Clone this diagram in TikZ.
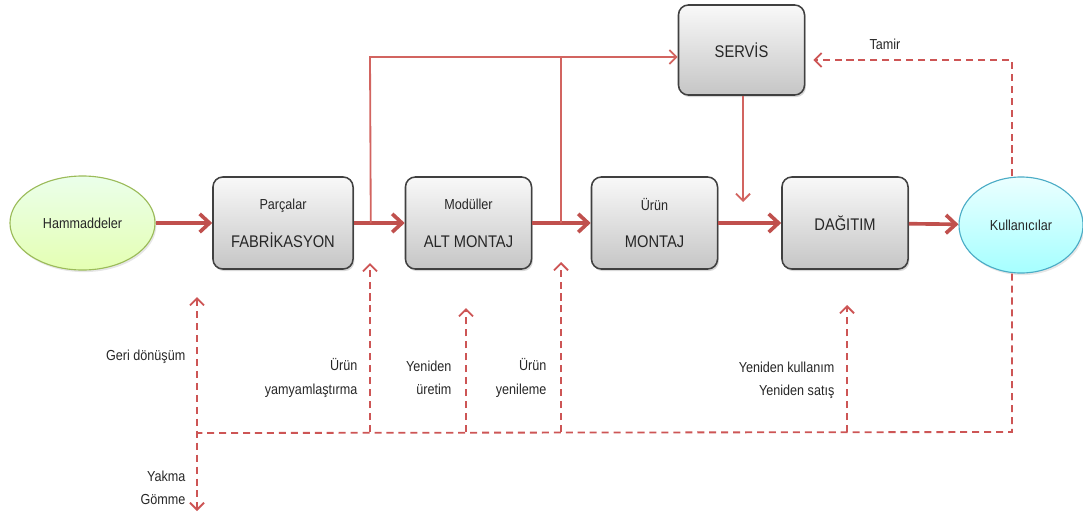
\documentclass[tikz,border=0pt]{standalone}
\usepackage{fontspec}
\setmainfont{Liberation Sans}[FakeStretch=0.87]
\usetikzlibrary{positioning,calc,arrows.meta,shapes.geometric,shadows}

\definecolor{koyukirmizi}{RGB}{192,80,77}
\definecolor{acikkirmizi}{RGB}{210,100,96}
\definecolor{kesikkirmizi}{RGB}{205,85,85}
\definecolor{kutukenar}{RGB}{64,64,64}
\definecolor{yesilkenar}{RGB}{155,187,89}
\definecolor{mavikenar}{RGB}{75,172,198}

\newcommand{\kucukyazi}{\fontsize{10.3}{12}\selectfont}
\newcommand{\buyukyazi}{\fontsize{12}{14}\selectfont}
\newcommand{\etiketyazi}{\fontsize{10.3}{16.5}\selectfont}

\tikzset{
  kutu/.style={draw=kutukenar, line width=1.1pt, rounded corners=7pt,
    top color=gray!5, bottom color=gray!45, minimum width=3.15cm,
    minimum height=2.3cm, align=center, font=\buyukyazi, text=black!85,
    drop shadow={opacity=0.3, shadow xshift=1pt, shadow yshift=-1.5pt}},
  yumurta/.style={ellipse, line width=0.8pt, inner sep=0pt, font=\kucukyazi,
    text=black!85, drop shadow={opacity=0.2, shadow xshift=1pt, shadow yshift=-1.5pt}},
  kalin/.style={koyukirmizi, line width=2.6pt, -{Straight Barb[length=7pt,width=13pt]}},
  ince/.style={acikkirmizi, line width=1.3pt},
  kesik/.style={kesikkirmizi, line width=1.3pt, dash pattern=on 5pt off 3.5pt},
  ucu/.style={-{Straight Barb[length=5pt,width=10pt]}},
  ikiucu/.style={{Straight Barb[length=5pt,width=10pt]}-{Straight Barb[length=5pt,width=10pt]}},
  etiket/.style={font=\etiketyazi, text=black!85, align=right, anchor=east, inner sep=1pt}
}

\begin{document}
\begin{tikzpicture}[x=0.025cm, y=-0.025cm]
	\useasboundingbox (0,0) rectangle (1083,521);

	% ana akis
	\node[yumurta, top color=green!8!white, bottom color=green!35!yellow!30!white, draw=yesilkenar,
		minimum width=3.625cm, minimum height=2.35cm] (ham) at (82.5,223) {Hammaddeler};
	\node[kutu, minimum width=3.5cm] (fab) at (283,223) {{\kucukyazi Parçalar}\\[13pt]FABRİKASYON};
	\node[kutu] (alt) at (468.5,223) {{\kucukyazi Modüller}\\[13pt]ALT MONTAJ};
	\node[kutu] (mon) at (654.5,223) {{\kucukyazi Ürün}\\[13pt]MONTAJ};
	\node[kutu] (dag) at (845,223) {DAĞITIM};
	\node[yumurta, top color=cyan!8!white, bottom color=cyan!35!white, draw=mavikenar,
		minimum width=3.1cm, minimum height=2.4cm] (kul) at (1021,225) {Kullanıcılar};
	\node[kutu, minimum height=2.25cm] (servis) at (741.5,50) {SERVİS};

	\draw[kalin] (ham) -- (fab);
	\draw[kalin] (fab) -- (alt);
	\draw[kalin] (alt) -- (mon);
	\draw[kalin] (mon) -- (dag);
	\draw[kalin] (dag) -- (kul);

	% servise giden hatlar
	\coordinate (j1) at ($(fab.east)+(17,0)$);
	\coordinate (j2) at ($(alt.east)+(29,0)$);
	\coordinate (t1) at (370,57);
	\coordinate (s1) at (743,202);
	\draw[ince, ucu] (j1) -- (t1) -- (t1 -| servis.west);
	\draw[ince] (j2) -- (j2 |- t1);
	\draw[ince, ucu] (servis.south -| s1) -- (s1);

	% geri donus hatlari
	\coordinate (k1) at (1012,60);
	\coordinate (k2) at (1012,432);
	\coordinate (g0) at (197,297);
	\coordinate (g1) at (197,433);
	\coordinate (g2) at (197,511);
	\draw[kesik, ucu] (kul.north -| k1) -- (k1) -- ($(servis.east |- k1)+(8,0)$);
	\node[font=\etiketyazi, text=black!85] (tamir) at (885,44) {Tamir};
	\draw[kesik] (kul.south -| k2) -- (k2) -- (g1);
	\draw[kesik, ikiucu] (g0) -- (g2);
	\foreach \x/\y [count=\i] in {370/263, 466/308, 561/262, 847/305} {
		\coordinate (a\i) at (\x,432);
		\coordinate (u\i) at (\x,\y);
		\draw[kesik, ucu] (a\i) -- (u\i);
	}

	\node[etiket] (geri) at (187,357) {Geri dönüşüm};
	\node[etiket] (yamyam) at (359,378) {Ürün\\yamyamlaştırma};
	\node[etiket] (uretim) at (453,378) {Yeniden\\üretim};
	\node[etiket] (yenileme) at (548,378) {Ürün\\yenileme};
	\node[etiket] (kullanim) at (836,380) {Yeniden kullanım\\Yeniden satış};
	\node[etiket] (yakma) at (187,488) {Yakma\\Gömme};
\end{tikzpicture}
\end{document}
